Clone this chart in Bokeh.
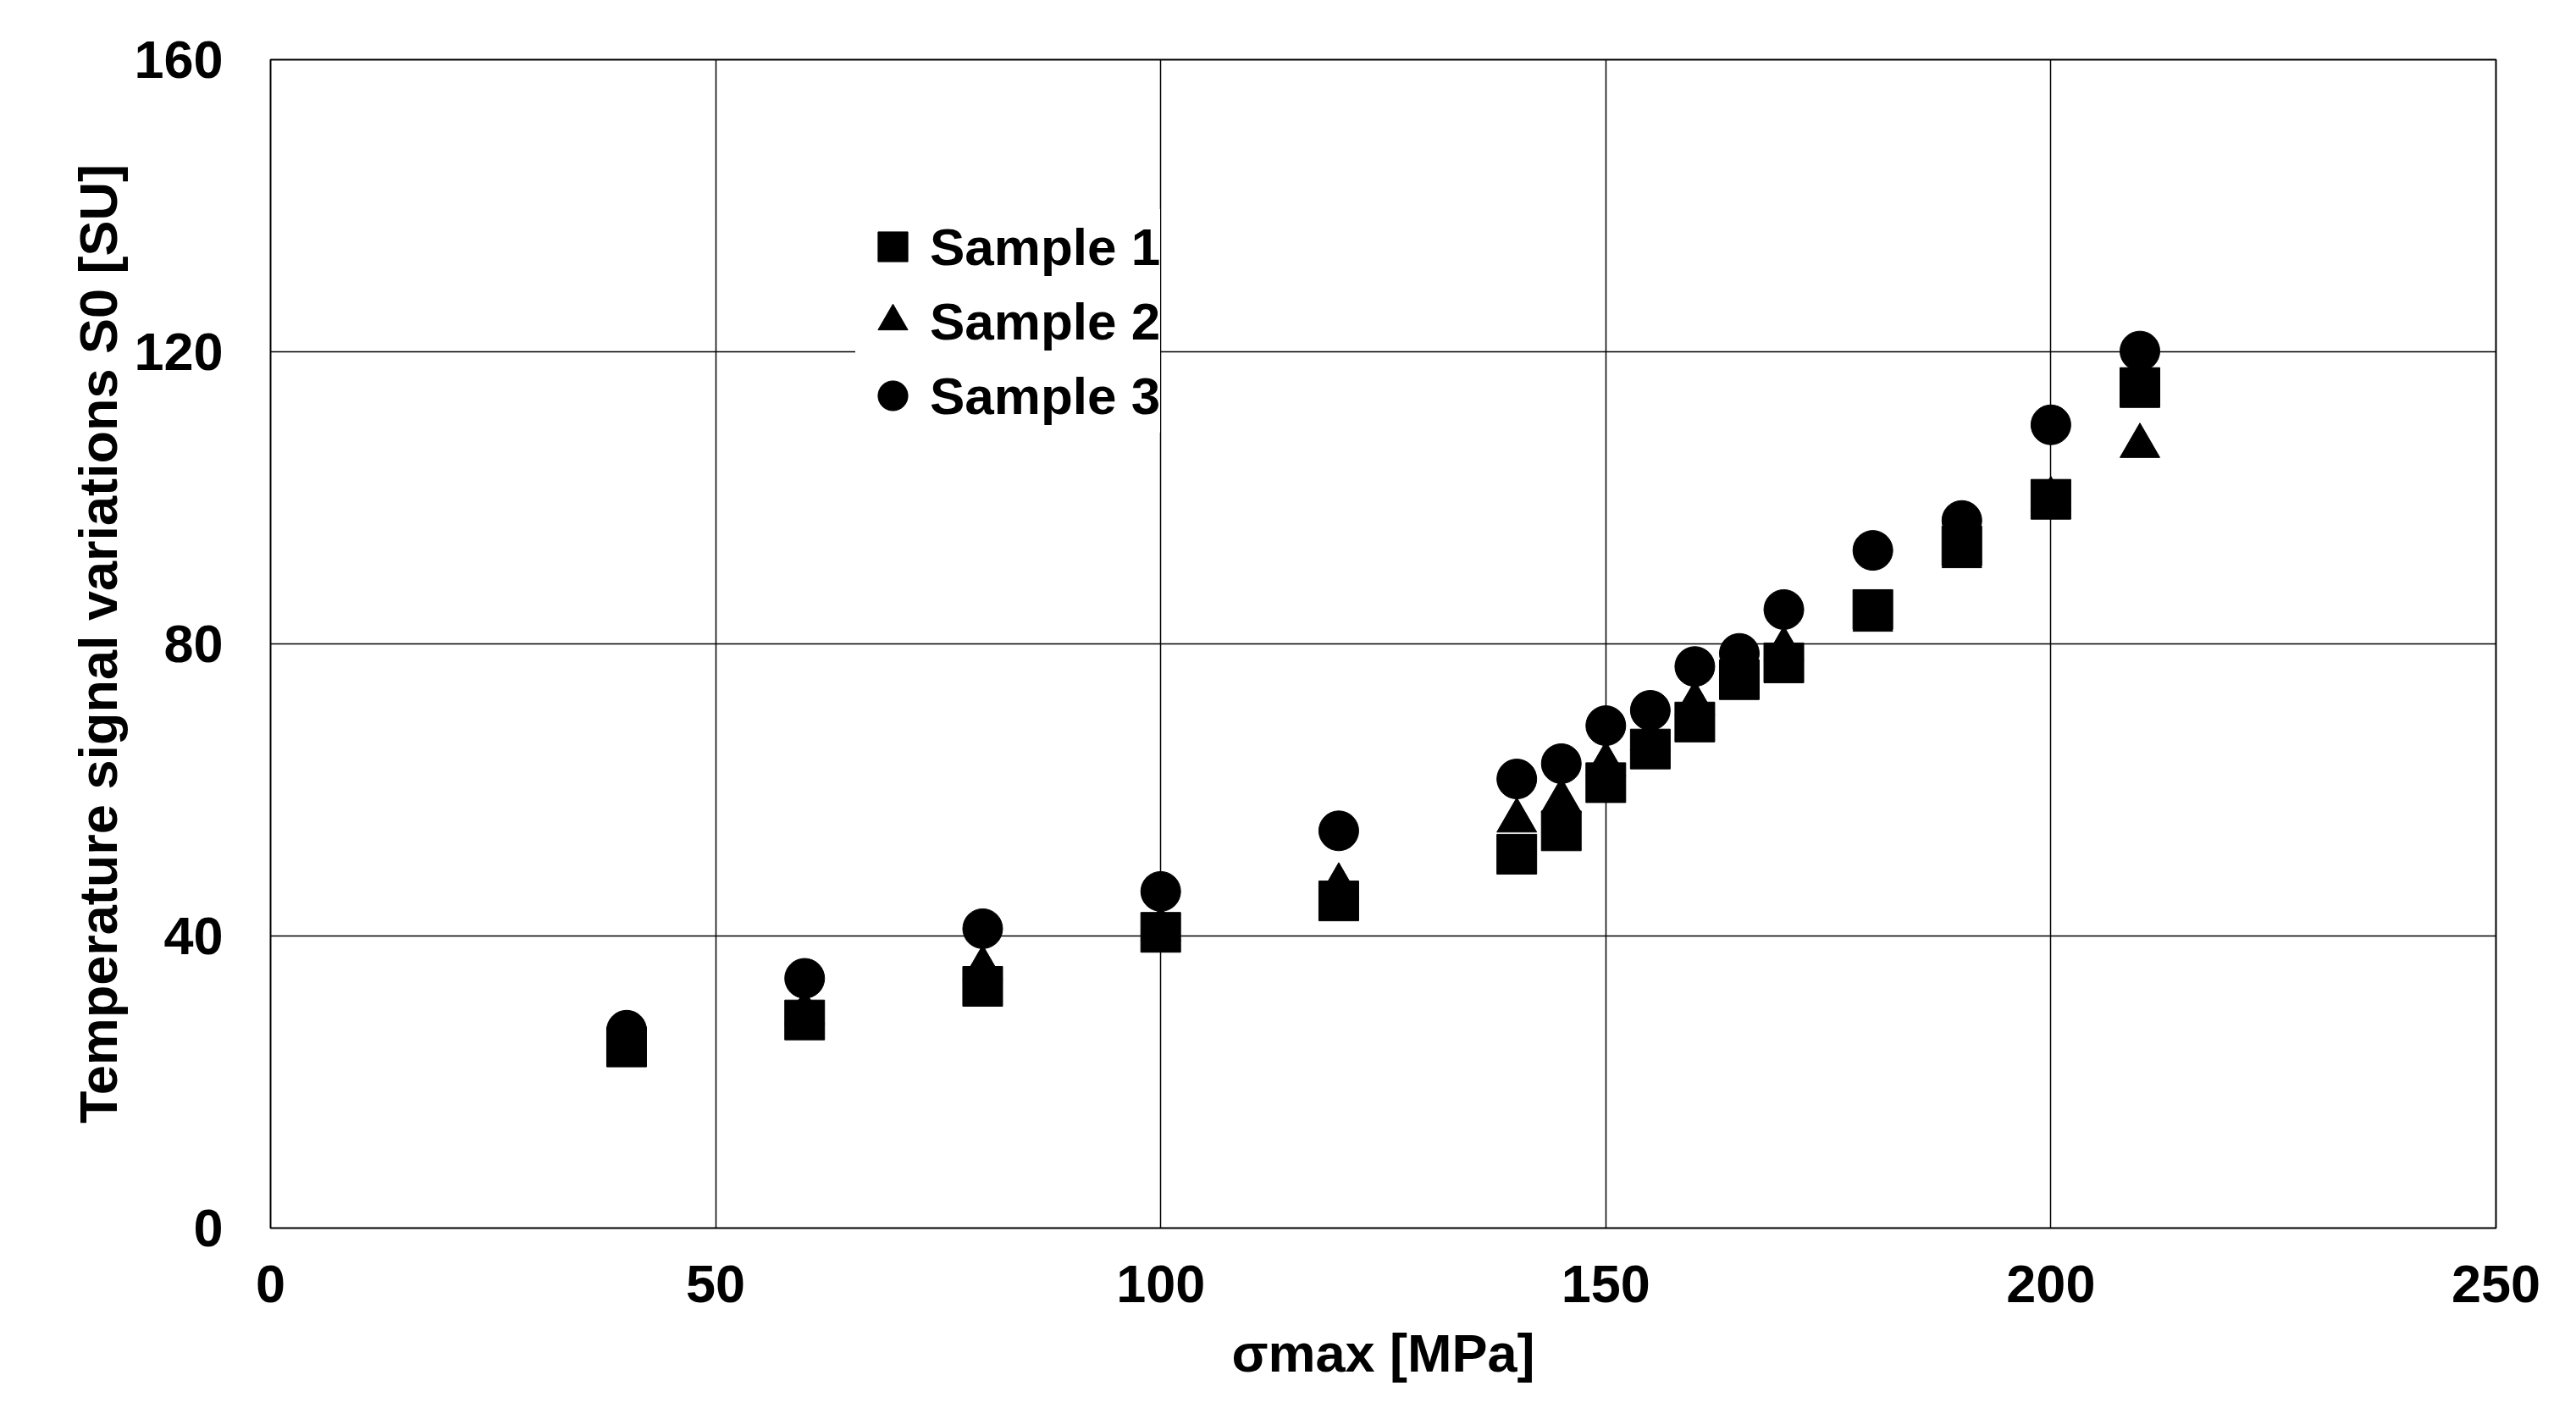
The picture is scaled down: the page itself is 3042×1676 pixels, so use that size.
from bokeh.plotting import figure
from bokeh.models import Range1d, FixedTicker, Legend, LegendItem
from bokeh.embed import file_html
from bokeh.resources import INLINE

# ---- data ----
stress = [40, 60, 80, 100, 120, 140, 145, 150, 155, 160, 165, 170, 180, 190, 200, 210]
sample1 = [24.8, 28.5, 33.1, 40.5, 44.8, 51.2, 54.4, 61.0, 65.6, 69.3, 75.1, 77.4, 84.7, 93.4, 99.8, 115.1]
sample2 = [26.0, 29.5, 35.6, 41.0, 46.9, 55.8, 58.5, 63.5, 67.0, 71.8, 76.5, 79.3, 83.3, 92.0, 99.8, 107.1]
sample3 = [27.1, 34.2, 41.0, 46.1, 54.4, 61.5, 63.6, 68.8, 70.9, 76.9, 78.7, 84.7, 92.8, 96.9, 110.0, 120.1]
series_names = ["Sample 1", "Sample 2", "Sample 3"]
x_ticks = [0, 50, 100, 150, 200, 250]
y_ticks = [0, 40, 80, 120, 160]
x_title = "σmax [MPa]"
y_title = "Temperature signal variations S0 [SU]"

FONT = "Liberation Sans"

p = figure(
    frame_width=2628, frame_height=1380,
    min_border_left=319, min_border_top=70, min_border_right=72, min_border_bottom=202,
    x_range=Range1d(0, 250), y_range=Range1d(0, 160),
    output_backend="svg", toolbar_location=None,
    background_fill_color="white", border_fill_color="white",
)
p.outline_line_color = "black"
p.outline_line_width = 2

for ax in (p.xaxis[0], p.yaxis[0]):
    ax.axis_line_color = None
    ax.major_tick_line_color = None
    ax.minor_tick_line_color = None
    ax.major_tick_in = 0
    ax.major_tick_out = 0
    ax.minor_tick_in = 0
    ax.minor_tick_out = 0
    ax.major_label_text_font = FONT
    ax.major_label_text_font_style = "bold"
    ax.major_label_text_font_size = "63px"
    ax.major_label_text_color = "black"
    ax.axis_label_text_font = FONT
    ax.axis_label_text_font_style = "bold"
    ax.axis_label_text_font_size = "63px"
    ax.axis_label_text_color = "black"

p.xaxis.ticker = FixedTicker(ticks=x_ticks)
p.yaxis.ticker = FixedTicker(ticks=y_ticks)
p.xaxis.axis_label = x_title
p.yaxis.axis_label = y_title
p.xaxis.major_label_standoff = 44
p.yaxis.major_label_standoff = 56
p.xaxis.axis_label_standoff = 22
p.yaxis.axis_label_standoff = 4

p.xgrid.ticker = FixedTicker(ticks=x_ticks)
p.ygrid.ticker = FixedTicker(ticks=y_ticks)
for g in (p.xgrid[0], p.ygrid[0]):
    g.grid_line_color = "black"
    g.grid_line_width = 1.5
    g.grid_line_alpha = 1.0

r1 = p.scatter(stress, sample1, marker="square", size=47, color="black")
r2 = p.scatter(stress, sample2, marker="triangle", size=47, color="black")
r3 = p.scatter(stress, sample3, marker="circle", size=47, color="black")

legend = Legend(
    items=[LegendItem(label=series_names[0], renderers=[r1]),
           LegendItem(label=series_names[1], renderers=[r2]),
           LegendItem(label=series_names[2], renderers=[r3])],
    location=(691, 939),
    glyph_width=88, glyph_height=88, spacing=0, padding=0, margin=0,
    label_standoff=0,
    label_text_font=FONT, label_text_font_style="bold", label_text_font_size="62px",
    label_text_color="black",
    border_line_color=None, background_fill_color="white", background_fill_alpha=1.0,
)
p.add_layout(legend)

open("out.html", "w").write(file_html(p, INLINE))
